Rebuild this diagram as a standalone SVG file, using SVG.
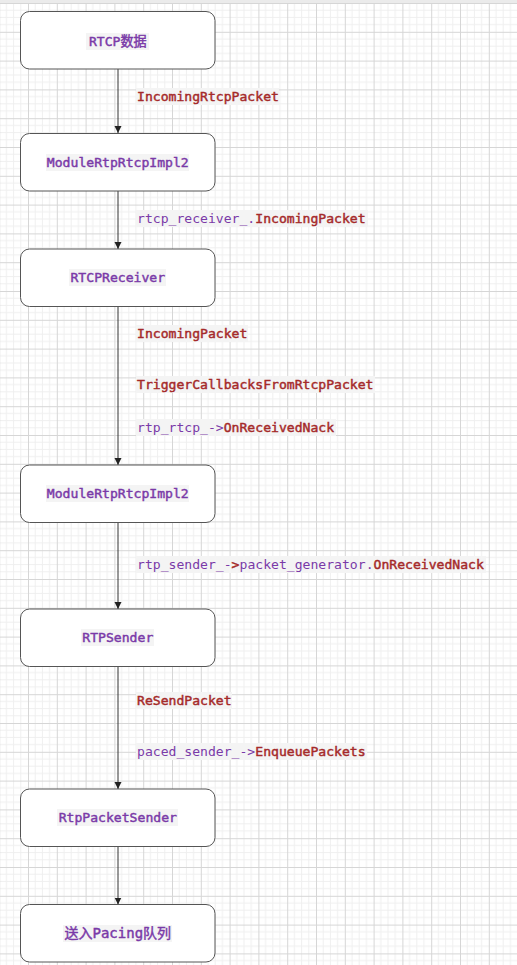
<svg xmlns="http://www.w3.org/2000/svg" width="517" height="965" viewBox="0 0 517 965">
<style>
.node rect.box{fill:#ffffff;stroke:#555555;stroke-width:1}
.hl{fill:#f4f4f4}
text{font-family:"DejaVu Sans Mono","Liberation Mono","Noto Sans CJK SC",monospace;font-size:13.1px}
.nl{fill:#7a3aa8;stroke:#7a3aa8;stroke-width:0.45;text-anchor:middle}
.v{fill:#7a3aa8}
.f{fill:#a52a2a;stroke:#a52a2a;stroke-width:0.45}
.conn line{stroke:#333333;stroke-width:1}
</style>
<defs>
<pattern id="grid" patternUnits="userSpaceOnUse" x="-0.8" y="3" width="28.8" height="28.8">
<path d="M7.2 0V28.8M14.4 0V28.8M21.6 0V28.8M0 7.2H28.8M0 14.4H28.8M0 21.6H28.8" stroke="#efefef" stroke-width="1" fill="none"/>
<path d="M0.5 0V28.8M0 0.5H28.8" stroke="#d6d6d6" stroke-width="1" fill="none"/>
</pattern>
<marker id="arr" markerWidth="8" markerHeight="8" refX="7" refY="4" orient="auto" markerUnits="userSpaceOnUse">
<path d="M0,0.5 L7,4 L0,7.5 Z" fill="#222222"/>
</marker>
</defs>
<rect x="0" y="0" width="517" height="965" fill="#ffffff"/>
<rect x="0" y="0" width="517" height="965" fill="url(#grid)"/>
<rect x="0" y="0" width="517" height="3" fill="#ebebeb"/>

<g id="connectors" class="conn">
<line x1="118" y1="69" x2="118" y2="133" marker-end="url(#arr)"/>
<line x1="118" y1="191" x2="118" y2="249" marker-end="url(#arr)"/>
<line x1="118" y1="306.5" x2="118" y2="465" marker-end="url(#arr)"/>
<line x1="118" y1="522.5" x2="118" y2="609" marker-end="url(#arr)"/>
<line x1="118" y1="666.5" x2="118" y2="789" marker-end="url(#arr)"/>
<line x1="118" y1="846" x2="118" y2="904.5" marker-end="url(#arr)"/>
</g>

<g id="edge-labels">
<rect class="hl" x="136" y="88" width="143" height="17"/>
<text x="137" y="101"><tspan class="f">IncomingRtcpPacket</tspan></text>
<rect class="hl" x="136" y="210" width="232" height="17"/>
<text x="137" y="223"><tspan class="v">rtcp_receiver_.</tspan><tspan class="f">IncomingPacket</tspan></text>
<rect class="hl" x="136" y="325" width="112" height="17"/>
<text x="137" y="338"><tspan class="f">IncomingPacket</tspan></text>
<rect class="hl" x="136" y="376" width="239" height="17"/>
<text x="137" y="389"><tspan class="f">TriggerCallbacksFromRtcpPacket</tspan></text>
<rect class="hl" x="136" y="419" width="200" height="17"/>
<text x="137" y="432"><tspan class="v">rtp_rtcp_-&gt;</tspan><tspan class="f">OnReceivedNack</tspan></text>
<rect class="hl" x="136" y="556" width="350" height="17"/>
<text x="137" y="569"><tspan class="v">rtp_sender_-</tspan><tspan class="f">&gt;</tspan><tspan class="v">packet_generator.</tspan><tspan class="f">OnReceivedNack</tspan></text>
<rect class="hl" x="136" y="692" width="96" height="17"/>
<text x="137" y="705"><tspan class="f">ReSendPacket</tspan></text>
<rect class="hl" x="136" y="743" width="231" height="17"/>
<text x="137" y="756"><tspan class="v">paced_sender_-&gt;</tspan><tspan class="f">EnqueuePackets</tspan></text>
</g>

<g id="n1" class="node">
<rect class="box" x="20.5" y="11.5" width="194.5" height="57.5" rx="9"/>
<rect class="hl" x="86" y="33" width="63" height="17"/>
<text class="nl" x="117.8" y="46">RTCP数据</text>
</g>
<g id="n2" class="node">
<rect class="box" x="20.5" y="133.5" width="194.5" height="57.5" rx="9"/>
<rect class="hl" x="46" y="154" width="143" height="17"/>
<text class="nl" x="117.8" y="167">ModuleRtpRtcpImpl2</text>
</g>
<g id="n3" class="node">
<rect class="box" x="20.5" y="249" width="194.5" height="57.5" rx="9"/>
<rect class="hl" x="69" y="269" width="97" height="17"/>
<text class="nl" x="117.8" y="282">RTCPReceiver</text>
</g>
<g id="n4" class="node">
<rect class="box" x="20.5" y="465" width="194.5" height="57.5" rx="9"/>
<rect class="hl" x="46" y="485" width="143" height="17"/>
<text class="nl" x="117.8" y="498">ModuleRtpRtcpImpl2</text>
</g>
<g id="n5" class="node">
<rect class="box" x="20.5" y="609" width="194.5" height="57.5" rx="9"/>
<rect class="hl" x="81" y="629" width="73" height="17"/>
<text class="nl" x="117.8" y="642">RTPSender</text>
</g>
<g id="n6" class="node">
<rect class="box" x="20.5" y="789" width="194.5" height="57.5" rx="9"/>
<rect class="hl" x="57" y="809" width="121" height="17"/>
<text class="nl" x="117.8" y="822">RtpPacketSender</text>
</g>
<g id="n7" class="node">
<rect class="box" x="20.5" y="904.5" width="194.5" height="57.5" rx="9"/>
<rect class="hl" x="63" y="925" width="109" height="17"/>
<text class="nl" x="117.8" y="938" style="font-size:14px">送入Pacing队列</text>
</g>
</svg>
